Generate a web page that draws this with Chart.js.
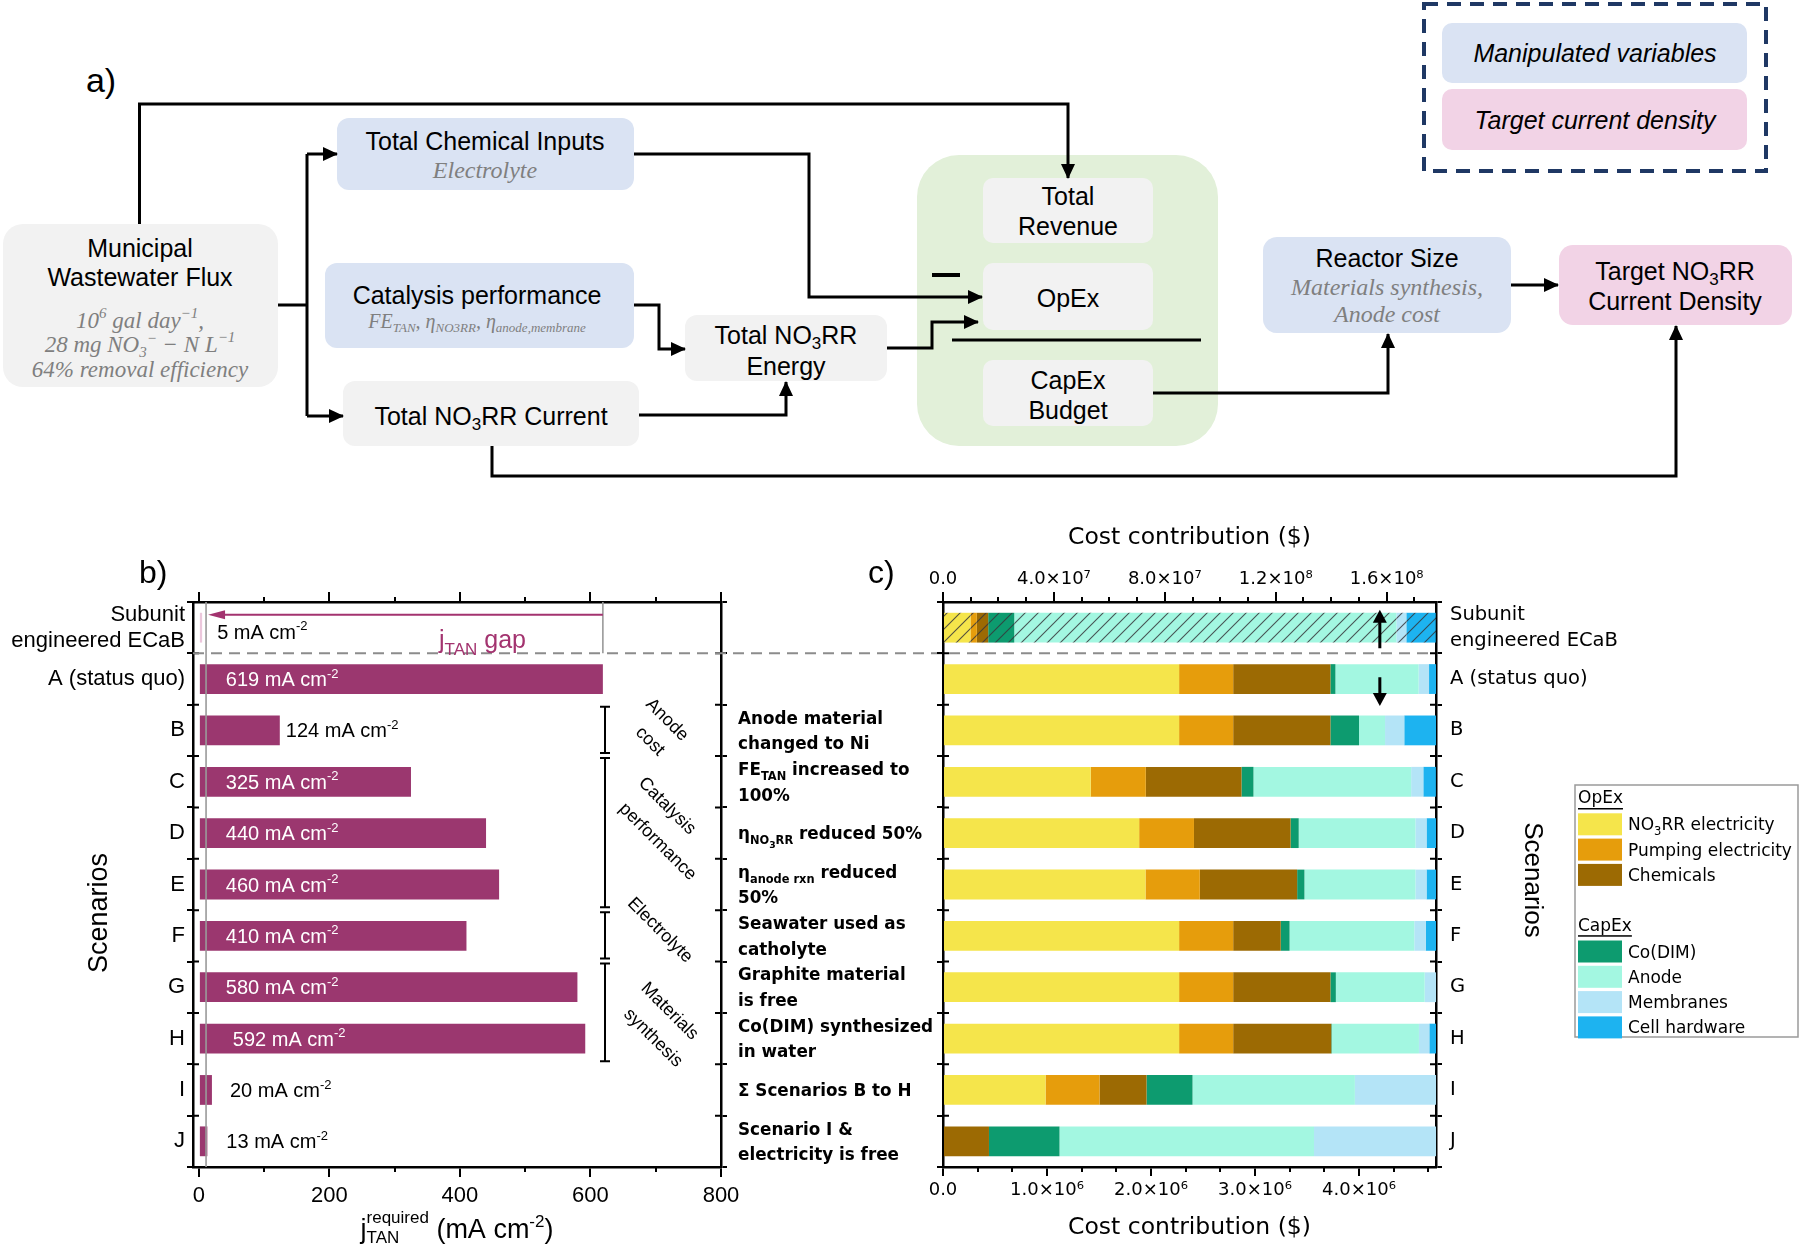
<!DOCTYPE html>
<html>
<head>
<meta charset="utf-8">
<script src="https://cdn.jsdelivr.net/npm/chart.js"></script>
<style>
  html, body { margin: 0; padding: 0; background: #fff; }
  #fig { position: relative; width: 1800px; height: 1245px; overflow: hidden; }
  #fig canvas, #fig svg { position: absolute; left: 0; top: 0; }
</style>
</head>
<body>
<div id="fig">
<svg id="flow" width="1800" height="500" viewBox="0 0 1800 500" font-family="'Liberation Sans', Arial, sans-serif" font-size="25" text-anchor="middle">
  <defs>
    <marker id="ah" markerUnits="userSpaceOnUse" markerWidth="15" markerHeight="14" refX="14" refY="7" orient="auto">
      <path d="M0,0 L15,7 L0,14 Z" fill="#000"/>
    </marker>
  </defs>
  <text x="101" y="92" font-size="34">a)</text>

  <rect x="3" y="224" width="275" height="163" rx="20" fill="#f2f2f2"/>
  <rect x="337" y="118" width="297" height="72" rx="12" fill="#dae3f3"/>
  <rect x="325" y="263" width="309" height="85" rx="12" fill="#dae3f3"/>
  <rect x="343" y="381" width="296" height="65" rx="12" fill="#f2f2f2"/>
  <rect x="685" y="315" width="202" height="66" rx="12" fill="#f2f2f2"/>
  <rect x="917" y="155" width="301" height="291" rx="42" fill="#e2f0d9"/>
  <rect x="983" y="178" width="170" height="65" rx="10" fill="#f2f2f2"/>
  <rect x="983" y="263" width="170" height="67" rx="10" fill="#f2f2f2"/>
  <rect x="983" y="360" width="170" height="66" rx="10" fill="#f2f2f2"/>
  <rect x="1263" y="237" width="248" height="96" rx="14" fill="#dae3f3"/>
  <rect x="1559" y="245" width="233" height="80" rx="14" fill="#f2d3e6"/>
  <rect x="1424" y="4" width="342" height="167" fill="none" stroke="#1f3864" stroke-width="4" stroke-dasharray="14 9"/>
  <rect x="1442" y="23" width="305" height="60" rx="10" fill="#dae3f3"/>
  <rect x="1442" y="89" width="305" height="61" rx="10" fill="#f2d3e6"/>

  <g fill="none" stroke="#000" stroke-width="3">
    <path d="M139.5 224 V104 H1068 V178" marker-end="url(#ah)"/>
    <path d="M278 305 H307 M307 154 V416"/>
    <path d="M307 154 H337" marker-end="url(#ah)"/>
    <path d="M307 416 H343" marker-end="url(#ah)"/>
    <path d="M634 154 H809 V297 H982" marker-end="url(#ah)"/>
    <path d="M634 305 H659 V349 H685" marker-end="url(#ah)"/>
    <path d="M639 415 H786 V382" marker-end="url(#ah)"/>
    <path d="M887 348 H932 V322 H978" marker-end="url(#ah)"/>
    <path d="M1153 393 H1388 V334" marker-end="url(#ah)"/>
    <path d="M1511 285 H1558" marker-end="url(#ah)"/>
    <path d="M492 446 V476 H1676 V326" marker-end="url(#ah)"/>
    <path d="M932 275 H960" stroke-width="4"/>
    <path d="M952 340 H1201"/>
  </g>

  <text x="140" y="257">Municipal</text>
  <text x="140" y="286">Wastewater Flux</text>
  <text x="485" y="150">Total Chemical Inputs</text>
  <text x="477" y="304">Catalysis performance</text>
  <text x="491" y="425">Total NO<tspan font-size="17" dy="5">3</tspan><tspan dy="-5">RR Current</tspan></text>
  <text x="786" y="344">Total NO<tspan font-size="17" dy="5">3</tspan><tspan dy="-5">RR</tspan></text>
  <text x="786" y="375">Energy</text>
  <text x="1068" y="205">Total</text>
  <text x="1068" y="235">Revenue</text>
  <text x="1068" y="307">OpEx</text>
  <text x="1068" y="389">CapEx</text>
  <text x="1068" y="419">Budget</text>
  <text x="1387" y="267">Reactor Size</text>
  <text x="1675" y="280">Target NO<tspan font-size="17" dy="5">3</tspan><tspan dy="-5">RR</tspan></text>
  <text x="1675" y="310">Current Density</text>
  <text x="1595" y="62" font-style="italic">Manipulated variables</text>
  <text x="1595" y="129" font-style="italic">Target current density</text>

  <g font-family="'Liberation Serif', serif" font-style="italic" fill="#7f7f7f" font-size="23">
    <text x="140" y="328">10<tspan font-size="15" dy="-10">6</tspan><tspan dy="10"> gal day</tspan><tspan font-size="15" dy="-10">−1</tspan><tspan dy="10">,</tspan></text>
    <text x="140" y="352">28 mg NO<tspan font-size="15" dy="5">3</tspan><tspan font-size="15" dy="-14">−</tspan><tspan dy="9"> − N L</tspan><tspan font-size="15" dy="-10">−1</tspan></text>
    <text x="140" y="377">64% removal efficiency</text>
    <text x="485" y="178" font-size="24">Electrolyte</text>
    <text x="477" y="328" font-size="20">FE<tspan font-size="13" dy="4">TAN</tspan><tspan dy="-4">, η</tspan><tspan font-size="13" dy="4">NO3RR</tspan><tspan dy="-4">, η</tspan><tspan font-size="13" dy="4">anode,membrane</tspan></text>
    <text x="1387" y="295" font-size="24">Materials synthesis,</text>
    <text x="1387" y="322" font-size="24">Anode cost</text>
  </g>
</svg>
<canvas id="chartB" width="1800" height="1245"></canvas>
<canvas id="chartC" width="1800" height="1245"></canvas>
</div>

<script>
// ---- data ----
const ROWS = [['Subunit', 'engineered ECaB'], 'A (status quo)', 'B', 'C', 'D', 'E', 'F', 'G', 'H', 'I', 'J'];
const J_REQUIRED = [5, 619, 124, 325, 440, 460, 410, 580, 592, 20, 13];
const J_TICKS = [0, 200, 400, 600, 800];
const J_MINOR_TICKS = [100, 300, 500, 700];
const J_GAP_FLOOR = 11;

const COST_NAMES = ['NO_{3}RR electricity', 'Pumping electricity', 'Chemicals', 'Co(DIM)', 'Anode', 'Membranes', 'Cell hardware'];
const COST_COLORS = ['#f5e54b', '#e69d0c', '#9c6a03', '#0d9b6f', '#a3f7e1', '#b4e4f7', '#1db3f0'];
// subunit engineered ECaB (top axis)
const SUBUNIT_COST = [0.99e7, 0.23e7, 0.41e7, 0.94e7, 13.78e7, 0.36e7, 1.06e7];
// scenarios A..J (bottom axis)
const NO3RR_ELEC = [2.27e6, 2.27e6, 1.42e6, 1.886e6, 1.947e6, 2.27e6, 2.27e6, 2.27e6, 0.986e6, 0];
const PUMPING    = [0.52e6, 0.52e6, 0.53e6, 0.527e6, 0.522e6, 0.52e6, 0.52e6, 0.52e6, 0.519e6, 0];
const CHEMICALS  = [0.935e6, 0.935e6, 0.92e6, 0.929e6, 0.936e6, 0.457e6, 0.935e6, 0.943e6, 0.452e6, 0.442e6];
const CO_DIM     = [0.048e6, 0.275e6, 0.115e6, 0.078e6, 0.07e6, 0.085e6, 0.052e6, 0.005e6, 0.442e6, 0.678e6];
const ANODE      = [0.80e6, 0.25e6, 1.516e6, 1.122e6, 1.067e6, 1.199e6, 0.854e6, 0.838e6, 1.561e6, 2.447e6];
const MEMBRANES  = [0.10e6, 0.185e6, 0.117e6, 0.107e6, 0.107e6, 0.11e6, 0.109e6, 0.10e6, 0.78e6, 1.173e6];
const CELL_HW    = [0.07e6, 0.305e6, 0.121e6, 0.091e6, 0.091e6, 0.099e6, 0, 0.069e6, 0, 0];
const COST_TOP_TICKS = [0, 4e7, 8e7, 1.2e8, 1.6e8];
const COST_TOP_MINOR = [1e7, 2e7, 3e7, 5e7, 6e7, 7e7, 9e7, 1e8, 1.1e8, 1.3e8, 1.4e8, 1.5e8, 1.7e8];
const COST_BOTTOM_TICKS = [0, 1e6, 2e6, 3e6, 4e6];
const COST_BOTTOM_MINOR = [0.333e6, 0.667e6, 1.333e6, 1.667e6, 2.333e6, 2.667e6, 3.333e6, 3.667e6, 4.333e6, 4.667e6];
const ARROW_AT = 4.2e6;

const SCENARIO_TEXT = [
  [], [],
  ['Anode material', 'changed to Ni'],
  ['FE_{TAN} increased to', '100%'],
  ['η_{NO}__{3}_{RR} reduced 50%'],
  ['η_{anode rxn} reduced', '50%'],
  ['Seawater used as', 'catholyte'],
  ['Graphite material', 'is free'],
  ['Co(DIM) synthesized', 'in water'],
  ['Σ Scenarios B to H'],
  ['Scenario I &', 'electricity is free']
];
const RIGHT_LABELS = ROWS;

// ---- layout ----
const W = 1800, H = 1245;
const AREA_B = {left: 193, right: 721, top: 602, bottom: 1167};
const AREA_C = {left: 943, right: 1436, top: 602, bottom: 1167};
const SANS = "'Liberation Sans', Arial, sans-serif";
const DEJAVU = "'DejaVu Sans', Verdana, sans-serif";
const PLUM = '#9b376f';

Chart.defaults.font.family = SANS;
Chart.defaults.color = '#000';
Chart.defaults.animation = false;

// fixed axis box sizes so the plot areas land where the figure has them
const fixSize = n => s => { if (s.isHorizontal()) s.height = n; else s.width = n; };
const zeroSize = fixSize(0);
const tickAt = vals => s => { s.ticks = vals.map(v => ({value: v})); };

function richParse(str) {
  const out = [];
  str.split(/(__\{[^}]*\}|_\{[^}]*\}|\^\{[^}]*\})/).forEach(p => {
    if (!p) return;
    if (p.startsWith('__{')) out.push({t: p.slice(3, -1), lv: 2});
    else if (p.startsWith('_{')) out.push({t: p.slice(2, -1), lv: 1});
    else if (p.startsWith('^{')) out.push({t: p.slice(2, -1), lv: -1});
    else out.push({t: p, lv: 0});
  });
  return out;
}
const LV = {'0': [1, 0], '1': [0.68, 0.3], '2': [0.55, 0.5], '-1': [0.65, -0.42]};
function drawRich(ctx, str, x, y, o) {
  const segs = richParse(str);
  const font = lv => `${o.style || ''} ${o.weight || ''} ${o.size * LV[lv][0]}px ${o.family || SANS}`;
  let w = 0;
  segs.forEach(s => { ctx.font = font(s.lv); s.w = ctx.measureText(s.t).width; w += s.w; });
  let cx = o.align === 'center' ? x - w / 2 : o.align === 'right' ? x - w : x;
  ctx.textAlign = 'left';
  ctx.textBaseline = 'alphabetic';
  ctx.fillStyle = o.color || '#000';
  segs.forEach(s => { ctx.font = font(s.lv); ctx.fillText(s.t, cx, y + o.size * LV[s.lv][1]); cx += s.w; });
  return w;
}
function innerTicks(ctx, yScale, area, n) {
  ctx.strokeStyle = '#000';
  ctx.lineWidth = 2;
  ctx.beginPath();
  for (let i = 0; i <= n; i++) {
    const py = yScale.getPixelForValue(i - 0.5);
    ctx.moveTo(area.left, py); ctx.lineTo(area.left + 6, py);
    ctx.moveTo(area.right - 6, py); ctx.lineTo(area.right, py);
  }
  ctx.stroke();
}
function arrowHead(ctx, x, y, dir, len, half) {
  ctx.beginPath();
  ctx.moveTo(x, y);
  ctx.lineTo(x - dir[0] * len - dir[1] * half, y - dir[1] * len + dir[0] * half);
  ctx.lineTo(x - dir[0] * len + dir[1] * half, y - dir[1] * len - dir[0] * half);
  ctx.closePath();
  ctx.fill();
}

// ---- panel b ----
const LABEL_DX = [15, 26, 6, 26, 26, 26, 26, 26, 33, 18, 19];
const BRACKETS = [
  {from: 2, to: 2, lines: [['Anode', 62, -10.5], ['cost', 45, 11]]},
  {from: 3, to: 5, lines: [['Catalysis', 62, -27], ['performance', 52.6, 8.7]]},
  {from: 6, to: 6, lines: [['Electrolyte', 55, -5.5]]},
  {from: 7, to: 8, lines: [['Materials', 64.6, -1.5], ['synthesis', 48, 25]]}
];

const bExtras = {
  id: 'bExtras',
  afterDraw(chart) {
    const {ctx, chartArea: a} = chart;
    const {x, y} = chart.scales;
    ctx.save();
    innerTicks(ctx, y, a, ROWS.length);

    // grey guide lines
    const gx = x.getPixelForValue(J_GAP_FLOOR);
    const sx = x.getPixelForValue(J_REQUIRED[1]);
    const dashY = (y.getPixelForValue(0) + y.getPixelForValue(1)) / 2;
    ctx.strokeStyle = '#9a9a9a';
    ctx.lineWidth = 1.6;
    ctx.beginPath();
    ctx.moveTo(gx, a.top); ctx.lineTo(gx, a.bottom);
    ctx.moveTo(sx, a.top); ctx.lineTo(sx, dashY);
    ctx.stroke();

    // dashed separator across b, the gap and c
    ctx.strokeStyle = '#8c8c8c';
    ctx.lineWidth = 2;
    ctx.setLineDash([11, 7]);
    ctx.beginPath();
    ctx.moveTo(a.left, dashY); ctx.lineTo(AREA_C.right - 4, dashY);
    ctx.stroke();
    ctx.setLineDash([]);

    // j_TAN gap arrow
    const ay = y.getPixelForValue(0) - 13;
    ctx.strokeStyle = '#a3336f';
    ctx.fillStyle = '#a3336f';
    ctx.lineWidth = 2;
    ctx.beginPath();
    ctx.moveTo(sx, ay); ctx.lineTo(gx + 12, ay);
    ctx.stroke();
    arrowHead(ctx, gx + 2, ay, [-1, 0], 17, 4.5);
    drawRich(ctx, 'j_{TAN} gap', x.getPixelForValue(368), y.getPixelForValue(0) + 20, {size: 25, color: '#a3336f'});

    // bar value labels
    const meta = chart.getDatasetMeta(0);
    meta.data.forEach((bar, i) => {
      const v = J_REQUIRED[i];
      const inside = v > 300;
      const lx = inside ? bar.base + LABEL_DX[i] : bar.x + LABEL_DX[i];
      drawRich(ctx, `${v} mA cm^{-2}`, lx, bar.y + 7 + (i === 0 ? 4 : 0), {size: 20, color: inside ? '#fff' : '#000'});
    });

    // brackets
    const bx = a.right - 116;
    ctx.strokeStyle = '#000';
    ctx.fillStyle = '#000';
    ctx.lineWidth = 2;
    BRACKETS.forEach(b => {
      const y0 = y.getPixelForValue(b.from - 0.5) + 2;
      const y1 = y.getPixelForValue(b.to + 0.5) - 3;
      ctx.beginPath();
      ctx.moveTo(bx, y0); ctx.lineTo(bx, y1);
      ctx.moveTo(bx - 5, y0); ctx.lineTo(bx + 5, y0);
      ctx.moveTo(bx - 5, y1); ctx.lineTo(bx + 5, y1);
      ctx.stroke();
      const cy = (y.getPixelForValue(b.from - 0.5) + y.getPixelForValue(b.to + 0.5)) / 2;
      b.lines.forEach(([t, dx, dy]) => {
        ctx.save();
        ctx.translate(bx + dx, cy + dy);
        ctx.rotate(Math.PI / 4);
        ctx.font = `18px ${SANS}`;
        ctx.textAlign = 'center';
        ctx.textBaseline = 'middle';
        ctx.fillText(t, 0, 0);
        ctx.restore();
      });
    });

    // titles
    ctx.fillStyle = '#000';
    ctx.font = `32px ${SANS}`;
    ctx.textAlign = 'left';
    ctx.textBaseline = 'alphabetic';
    ctx.fillText('b)', 139, 583);
    ctx.save();
    ctx.translate(100, 913);
    ctx.rotate(-Math.PI / 2);
    ctx.font = `27px ${SANS}`;
    ctx.textAlign = 'center';
    ctx.textBaseline = 'middle';
    ctx.fillText('Scenarios', 0, 0);
    ctx.restore();

    // x title: j^required_TAN (mA cm^-2)
    const base = 1238;
    ctx.font = `27px ${SANS}`;
    const wj = ctx.measureText('j').width;
    ctx.font = `17px ${SANS}`;
    const wSup = ctx.measureText('required').width;
    ctx.font = `27px ${SANS}`;
    const wRest = ctx.measureText(' (mA cm').width;
    ctx.font = `17px ${SANS}`;
    const wM2 = ctx.measureText('-2').width;
    ctx.font = `27px ${SANS}`;
    const wPar = ctx.measureText(')').width;
    let tx = (a.left + a.right) / 2 - (wj + wSup + wRest + wM2 + wPar) / 2;
    ctx.fillText('j', tx, base); tx += wj;
    ctx.font = `17px ${SANS}`;
    ctx.fillText('required', tx, base - 15);
    ctx.fillText('TAN', tx, base + 5);
    tx += wSup;
    ctx.font = `27px ${SANS}`;
    ctx.fillText(' (mA cm', tx, base); tx += wRest;
    ctx.font = `17px ${SANS}`;
    ctx.fillText('-2', tx, base - 11); tx += wM2;
    ctx.font = `27px ${SANS}`;
    ctx.fillText(')', tx, base);
    ctx.restore();
  }
};

const axisGrid = len => ({drawOnChartArea: false, tickLength: len, lineWidth: 2, color: '#000', offset: false});
const catGrid = {drawOnChartArea: false, tickLength: 6, lineWidth: 2, color: '#000', offset: true};
const border = {color: '#000', width: 2.5};

new Chart(document.getElementById('chartB'), {
  type: 'bar',
  data: {
    labels: ROWS,
    datasets: [{
      data: J_REQUIRED,
      backgroundColor: J_REQUIRED.map((v, i) => i === 0 ? '#ecc7dc' : PLUM),
      barPercentage: 0.58,
      categoryPercentage: 1,
      xAxisID: 'x',
      yAxisID: 'y'
    }]
  },
  options: {
    indexAxis: 'y',
    responsive: false,
    layout: {padding: {left: 0, top: AREA_B.top, right: W - AREA_B.right, bottom: 0}},
    plugins: {legend: {display: false}, tooltip: {enabled: false}},
    scales: {
      y: {type: 'category', position: 'left', offset: true, grid: catGrid, border,
          ticks: {font: {size: 22, lineHeight: 1.2}, padding: 2, autoSkip: false}, afterFit: fixSize(AREA_B.left)},
      yR: {type: 'category', position: 'right', labels: ROWS, offset: true, grid: catGrid, border,
           ticks: {display: false}, afterFit: zeroSize},
      x: {type: 'linear', position: 'bottom', weight: 1, min: -9, max: 800, afterBuildTicks: tickAt(J_TICKS),
          grid: axisGrid(10), border, ticks: {font: {size: 22}, padding: 6, maxRotation: 0, autoSkip: false},
          afterFit: fixSize(H - AREA_B.bottom)},
      xMinor: {type: 'linear', position: 'bottom', weight: 0, min: -9, max: 800, afterBuildTicks: tickAt(J_MINOR_TICKS),
               grid: axisGrid(5), border: {display: false}, ticks: {display: false}, afterFit: zeroSize},
      xTop: {type: 'linear', position: 'top', weight: 1, min: -9, max: 800, afterBuildTicks: tickAt(J_TICKS),
             grid: axisGrid(10), border, ticks: {display: false}, afterFit: zeroSize},
      xTopMinor: {type: 'linear', position: 'top', weight: 0, min: -9, max: 800, afterBuildTicks: tickAt(J_MINOR_TICKS),
                  grid: axisGrid(5), border: {display: false}, ticks: {display: false}, afterFit: zeroSize}
    }
  },
  plugins: [bExtras]
});

// ---- panel c ----
function hatch(color) {
  const s = 13, c = document.createElement('canvas');
  c.width = s; c.height = s;
  const g = c.getContext('2d');
  g.fillStyle = color;
  g.fillRect(0, 0, s, s);
  g.strokeStyle = 'rgba(55,55,60,0.85)';
  g.lineWidth = 1.1;
  g.beginPath();
  g.moveTo(0, s); g.lineTo(s, 0);
  g.moveTo(-s / 2, s / 2); g.lineTo(s / 2, -s / 2);
  g.moveTo(s / 2, s * 1.5); g.lineTo(s * 1.5, s / 2);
  g.stroke();
  return g.createPattern(c, 'repeat');
}

const SCENARIO_SERIES = [NO3RR_ELEC, PUMPING, CHEMICALS, CO_DIM, ANODE, MEMBRANES, CELL_HW];
const barCommon = {barPercentage: 0.58, categoryPercentage: 1, skipNull: true, stack: 'cost', yAxisID: 'y'};
const cDatasets = SCENARIO_SERIES.map((vals, k) => Object.assign({
  label: COST_NAMES[k], data: [null, ...vals], backgroundColor: COST_COLORS[k], xAxisID: 'x'
}, barCommon)).concat(SUBUNIT_COST.map((v, k) => Object.assign({
  label: COST_NAMES[k] + ' subunit', data: [v, ...NO3RR_ELEC.map(() => null)], backgroundColor: hatch(COST_COLORS[k]), xAxisID: 'x2'
}, barCommon)));

const LEGEND_GROUPS = [{title: 'OpEx', items: [0, 1, 2]}, {title: 'CapEx', items: [3, 4, 5, 6]}];

const cExtras = {
  id: 'cExtras',
  afterDraw(chart) {
    const {ctx, chartArea: a} = chart;
    const {x, y} = chart.scales;
    ctx.save();
    innerTicks(ctx, y, a, ROWS.length);

    // scenario descriptions
    SCENARIO_TEXT.forEach((lines, i) => {
      const cy = y.getPixelForValue(i);
      lines.forEach((t, k) => {
        const ly = cy + (k - (lines.length - 1) / 2) * 25.5 + 6;
        drawRich(ctx, t, AREA_B.right + 17, ly, {size: 16.8, weight: 'bold', family: DEJAVU});
      });
    });

    // arrows subunit <-> status quo
    const ax = x.getPixelForValue(ARROW_AT);
    const dashY = (y.getPixelForValue(0) + y.getPixelForValue(1)) / 2;
    ctx.strokeStyle = '#000';
    ctx.fillStyle = '#000';
    ctx.lineWidth = 3;
    const upTip = y.getPixelForValue(0) - 18, downTip = y.getPixelForValue(1) + 27;
    ctx.beginPath();
    ctx.moveTo(ax, dashY - 5); ctx.lineTo(ax, upTip + 10);
    ctx.moveTo(ax, dashY + 24); ctx.lineTo(ax, downTip - 10);
    ctx.stroke();
    arrowHead(ctx, ax, upTip, [0, -1], 13, 7);
    arrowHead(ctx, ax, downTip, [0, 1], 13, 7);

    // legend
    const L = {x: 1575, y: 785, w: 223, h: 252};
    ctx.strokeStyle = '#9a9a9a';
    ctx.lineWidth = 1.5;
    ctx.strokeRect(L.x, L.y, L.w, L.h);
    let ry = 799;
    LEGEND_GROUPS.forEach((grp, gi) => {
      if (gi) ry += 26;
      ctx.font = `17px ${DEJAVU}`;
      ctx.fillStyle = '#000';
      ctx.textAlign = 'left';
      ctx.textBaseline = 'middle';
      ctx.fillText(grp.title, L.x + 3, ry);
      const tw = ctx.measureText(grp.title).width;
      ctx.fillRect(L.x + 3, ry + 9, tw, 1.5);
      ry += 25.3;
      grp.items.forEach(k => {
        ctx.fillStyle = COST_COLORS[k];
        ctx.fillRect(L.x + 3, ry - 11, 44, 22);
        drawRich(ctx, COST_NAMES[k], L.x + 53, ry + 6, {size: 17, family: DEJAVU});
        ry += 25.3;
      });
    });

    // titles
    ctx.fillStyle = '#000';
    ctx.font = `32px ${SANS}`;
    ctx.textAlign = 'left';
    ctx.textBaseline = 'alphabetic';
    ctx.fillText('c)', 868, 583);
    ctx.font = `23.5px ${DEJAVU}`;
    ctx.textAlign = 'center';
    ctx.textBaseline = 'middle';
    ctx.fillText('Cost contribution ($)', (a.left + a.right) / 2, 538);
    ctx.fillText('Cost contribution ($)', (a.left + a.right) / 2, 1228);
    ctx.save();
    ctx.translate(1532, 880);
    ctx.rotate(Math.PI / 2);
    ctx.font = `26px ${SANS}`;
    ctx.fillText('Scenarios', 0, 0);
    ctx.restore();
    ctx.restore();
  }
};

const sci = (v, e) => v === 0 ? '0.0' : (v / Math.pow(10, e)).toFixed(1) + '×10' + {6: '⁶', 7: '⁷', 8: '⁸'}[e];

new Chart(document.getElementById('chartC'), {
  type: 'bar',
  data: {labels: ROWS, datasets: cDatasets},
  options: {
    indexAxis: 'y',
    responsive: false,
    layout: {padding: {left: AREA_C.left, top: 0, right: 0, bottom: 0}},
    plugins: {legend: {display: false}, tooltip: {enabled: false}},
    scales: {
      y: {type: 'category', position: 'left', stacked: true, offset: true, grid: catGrid, border,
          ticks: {display: false}, afterFit: zeroSize},
      y2: {type: 'category', position: 'right', labels: RIGHT_LABELS, offset: true, grid: catGrid, border,
           ticks: {font: {family: DEJAVU, size: 19.5, lineHeight: 1.33}, padding: 8, autoSkip: false},
           afterFit: fixSize(W - AREA_C.right)},
      x: {type: 'linear', position: 'bottom', weight: 1, stacked: true, min: 0, max: 4.74e6, afterBuildTicks: tickAt(COST_BOTTOM_TICKS),
          grid: axisGrid(9), border,
          ticks: {font: {family: DEJAVU, size: 18}, padding: 4, maxRotation: 0, autoSkip: false, callback: v => sci(v, 6)},
          afterFit: fixSize(H - AREA_C.bottom)},
      xMinor: {type: 'linear', position: 'bottom', weight: 0, min: 0, max: 4.74e6, afterBuildTicks: tickAt(COST_BOTTOM_MINOR),
               grid: axisGrid(5), border: {display: false}, ticks: {display: false}, afterFit: zeroSize},
      x2: {type: 'linear', position: 'top', weight: 1, stacked: true, min: 0, max: 1.778e8, afterBuildTicks: tickAt(COST_TOP_TICKS),
           grid: axisGrid(10), border,
           ticks: {font: {family: DEJAVU, size: 18}, padding: 2, maxRotation: 0, autoSkip: false,
                   callback: v => sci(v, v >= 1e8 ? 8 : 7)},
           afterFit: fixSize(AREA_C.top)},
      x2Minor: {type: 'linear', position: 'top', weight: 0, min: 0, max: 1.778e8, afterBuildTicks: tickAt(COST_TOP_MINOR),
                grid: axisGrid(5), border: {display: false}, ticks: {display: false}, afterFit: zeroSize}
    }
  },
  plugins: [cExtras]
});
</script>
</body>
</html>
